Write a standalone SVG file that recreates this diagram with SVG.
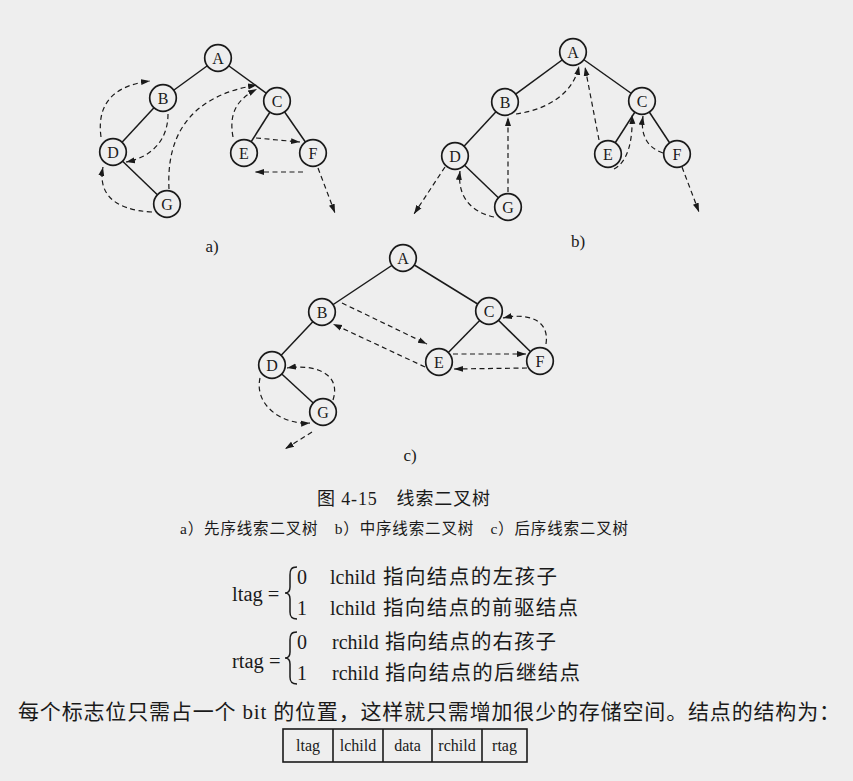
<svg xmlns="http://www.w3.org/2000/svg" width="853" height="781" viewBox="0 0 853 781">
<defs>
<marker id="ah" markerUnits="userSpaceOnUse" markerWidth="10" markerHeight="8" refX="9" refY="4" orient="auto">
<path d="M0,1 L9,4 L0,7 Z" fill="#1a1a1a"/>
</marker>
<style>
.bg{fill:#eeeeee}
.edge{stroke:#1a1a1a;stroke-width:1.5;fill:none}
.node circle{fill:#eeeeee;stroke:#1a1a1a;stroke-width:1.7}
.node text{font-family:"Liberation Serif",serif;font-size:16px;fill:#1a1a1a;text-anchor:middle}
.thr{stroke:#1a1a1a;stroke-width:1.2;fill:none;stroke-dasharray:5,3.5;marker-end:url(#ah)}
.lbl{font-family:"Liberation Serif","Noto Sans CJK SC",serif;fill:#1a1a1a}
.cjk{font-family:"Liberation Serif","Noto Sans CJK SC",serif;fill:#1a1a1a}
.brace{stroke:#1a1a1a;stroke-width:1.5;fill:none}
.tbl{stroke:#1a1a1a;stroke-width:1.6;fill:none}
</style>
</defs>
<rect class="bg" x="0" y="0" width="853" height="781"/>

<!-- tree edges -->
<g id="tree-edges">
<g id="edges-a">
<line class="edge" x1="218" y1="58" x2="163" y2="98"/>
<line class="edge" x1="218" y1="58" x2="277" y2="101"/>
<line class="edge" x1="163" y1="98" x2="113" y2="152"/>
<line class="edge" x1="113" y1="152" x2="167" y2="204"/>
<line class="edge" x1="277" y1="101" x2="244" y2="153"/>
<line class="edge" x1="277" y1="101" x2="313" y2="153"/>
</g>
<g id="edges-b">
<line class="edge" x1="573" y1="52" x2="505" y2="102"/>
<line class="edge" x1="573" y1="52" x2="642" y2="101"/>
<line class="edge" x1="505" y1="102" x2="455" y2="156"/>
<line class="edge" x1="455" y1="156" x2="508" y2="207"/>
<line class="edge" x1="642" y1="101" x2="608" y2="154"/>
<line class="edge" x1="642" y1="101" x2="677" y2="154"/>
</g>
<g id="edges-c">
<line class="edge" x1="403" y1="258" x2="322" y2="312"/>
<line class="edge" x1="403" y1="258" x2="489" y2="311"/>
<line class="edge" x1="322" y1="312" x2="272" y2="365"/>
<line class="edge" x1="272" y1="365" x2="323" y2="412"/>
<line class="edge" x1="489" y1="311" x2="439" y2="362"/>
<line class="edge" x1="489" y1="311" x2="540" y2="361"/>
</g>
</g>

<!-- nodes tree a -->
<g id="a-A" class="node"><circle cx="218" cy="58" r="13.3"/><text x="218" y="63.5">A</text></g>
<g id="a-B" class="node"><circle cx="163" cy="98" r="13.3"/><text x="163" y="103.5">B</text></g>
<g id="a-C" class="node"><circle cx="277" cy="101" r="13.3"/><text x="277" y="106.5">C</text></g>
<g id="a-D" class="node"><circle cx="113" cy="152" r="13.3"/><text x="113" y="157.5">D</text></g>
<g id="a-E" class="node"><circle cx="244" cy="153" r="13.3"/><text x="244" y="158.5">E</text></g>
<g id="a-F" class="node"><circle cx="313" cy="153" r="13.3"/><text x="313" y="158.5">F</text></g>
<g id="a-G" class="node"><circle cx="167" cy="204" r="13.3"/><text x="167" y="209.5">G</text></g>

<!-- nodes tree b -->
<g id="b-A" class="node"><circle cx="573" cy="52" r="13.3"/><text x="573" y="57.5">A</text></g>
<g id="b-B" class="node"><circle cx="505" cy="102" r="13.3"/><text x="505" y="107.5">B</text></g>
<g id="b-C" class="node"><circle cx="642" cy="101" r="13.3"/><text x="642" y="106.5">C</text></g>
<g id="b-D" class="node"><circle cx="455" cy="156" r="13.3"/><text x="455" y="161.5">D</text></g>
<g id="b-E" class="node"><circle cx="608" cy="154" r="13.3"/><text x="608" y="159.5">E</text></g>
<g id="b-F" class="node"><circle cx="677" cy="154" r="13.3"/><text x="677" y="159.5">F</text></g>
<g id="b-G" class="node"><circle cx="508" cy="207" r="13.3"/><text x="508" y="212.5">G</text></g>

<!-- nodes tree c -->
<g id="c-A" class="node"><circle cx="403" cy="258" r="13.3"/><text x="403" y="263.5">A</text></g>
<g id="c-B" class="node"><circle cx="322" cy="312" r="13.3"/><text x="322" y="317.5">B</text></g>
<g id="c-C" class="node"><circle cx="489" cy="311" r="13.3"/><text x="489" y="316.5">C</text></g>
<g id="c-D" class="node"><circle cx="272" cy="365" r="13.3"/><text x="272" y="370.5">D</text></g>
<g id="c-E" class="node"><circle cx="439" cy="362" r="13.3"/><text x="439" y="367.5">E</text></g>
<g id="c-F" class="node"><circle cx="540" cy="361" r="13.3"/><text x="540" y="366.5">F</text></g>
<g id="c-G" class="node"><circle cx="323" cy="412" r="13.3"/><text x="323" y="417.5">G</text></g>

<!-- thread connectors -->
<g id="threads">
<g id="threads-a">
<path class="thr" d="M101,137 C96,100 118,85 150,81"/>
<path class="thr" d="M168,114 C168,140 152,157 126,162"/>
<path class="thr" d="M152,212 C112,210 98,192 103,167"/>
<path class="thr" d="M169,189 C166,130 195,95 257,85"/>
<path class="thr" d="M233,137 C228,110 240,98 257,89"/>
<path class="thr" d="M256,138 L300,142"/>
<path class="thr" d="M303,172 L255,172"/>
<path class="thr" d="M318,168 L335,213"/>
</g>
<g id="threads-b">
<path class="thr" d="M516,114 C545,110 573,95 579,66"/>
<path class="thr" d="M508,192 L508,117"/>
<path class="thr" d="M599,140 L585,67"/>
<path class="thr" d="M614,169 C628,162 633,140 632,115"/>
<path class="thr" d="M663,153 C648,148 640,136 643,116"/>
<path class="thr" d="M682,167 L699,212"/>
<path class="thr" d="M494,217 C470,212 457,195 460,171"/>
<path class="thr" d="M445,167 L414,214"/>
</g>
<g id="threads-c">
<path class="thr" d="M342,303 L427,344"/>
<path class="thr" d="M425,367 L333,324"/>
<path class="thr" d="M453,354 L526,354"/>
<path class="thr" d="M527,368 L454,369"/>
<path class="thr" d="M546,344 C550,318 525,313 503,318"/>
<path class="thr" d="M333,400 C342,372 312,364 287,368"/>
<path class="thr" d="M260,378 C254,405 282,425 310,423"/>
<path class="thr" d="M312,432 L285,449"/>
</g>
</g>

<!-- sub labels -->
<text class="lbl" x="212" y="252" font-size="17" text-anchor="middle">a)</text>
<text class="lbl" x="578" y="247" font-size="17" text-anchor="middle">b)</text>
<text class="lbl" x="410" y="461" font-size="17" text-anchor="middle">c)</text>

<!-- caption -->
<text class="cjk" x="317" y="505" font-size="18" textLength="173" lengthAdjust="spacing">图 4-15　线索二叉树</text>
<text class="cjk" x="180" y="534" font-size="15.5" textLength="448" lengthAdjust="spacing">a）先序线索二叉树　b）中序线索二叉树　c）后序线索二叉树</text>

<!-- formulas -->
<g id="formula-ltag">
<text class="cjk" x="232" y="601" font-size="20.5">ltag =</text>
<path class="brace" d="M297,567 C291,567 290,570 290,575 L290,587 C290,591 289,593 285,593 C289,593 290,595 290,599 L290,612 C290,616 291,619 297,619"/>
<text class="cjk" x="297" y="584" font-size="20">0</text>
<text class="cjk" x="330" y="584" font-size="20">lchild</text>
<text class="cjk" x="383" y="584" font-size="20.5" textLength="174" lengthAdjust="spacing">指向结点的左孩子</text>
<text class="cjk" x="297" y="615" font-size="20">1</text>
<text class="cjk" x="330" y="615" font-size="20">lchild</text>
<text class="cjk" x="383" y="615" font-size="20.5" textLength="195" lengthAdjust="spacing">指向结点的前驱结点</text>
</g>
<g id="formula-rtag">
<text class="cjk" x="232" y="668" font-size="20.5">rtag =</text>
<path class="brace" d="M297,632 C291,632 290,635 290,640 L290,652 C290,656 289,658 285,658 C289,658 290,660 290,664 L290,677 C290,681 291,684 297,684"/>
<text class="cjk" x="297" y="649" font-size="20">0</text>
<text class="cjk" x="332" y="649" font-size="20">rchild</text>
<text class="cjk" x="385" y="649" font-size="20.5" textLength="171" lengthAdjust="spacing">指向结点的右孩子</text>
<text class="cjk" x="297" y="680" font-size="20">1</text>
<text class="cjk" x="332" y="680" font-size="20">rchild</text>
<text class="cjk" x="385" y="680" font-size="20.5" textLength="195" lengthAdjust="spacing">指向结点的后继结点</text>
</g>

<!-- paragraph -->
<text class="cjk" x="18" y="719" font-size="21" textLength="822" lengthAdjust="spacing">每个标志位只需占一个 bit 的位置，这样就只需增加很少的存储空间。结点的结构为：</text>

<!-- node structure table -->
<g id="node-structure">
<rect class="tbl" x="283" y="729" width="244" height="33"/>
<line class="tbl" x1="333" y1="729" x2="333" y2="762"/>
<line class="tbl" x1="383" y1="729" x2="383" y2="762"/>
<line class="tbl" x1="432" y1="729" x2="432" y2="762"/>
<line class="tbl" x1="482" y1="729" x2="482" y2="762"/>
<text class="lbl" x="308" y="751" font-size="16" text-anchor="middle">ltag</text>
<text class="lbl" x="358" y="751" font-size="16" text-anchor="middle">lchild</text>
<text class="lbl" x="407.5" y="751" font-size="16" text-anchor="middle">data</text>
<text class="lbl" x="457" y="751" font-size="16" text-anchor="middle">rchild</text>
<text class="lbl" x="504.5" y="751" font-size="16" text-anchor="middle">rtag</text>
</g>
</svg>
